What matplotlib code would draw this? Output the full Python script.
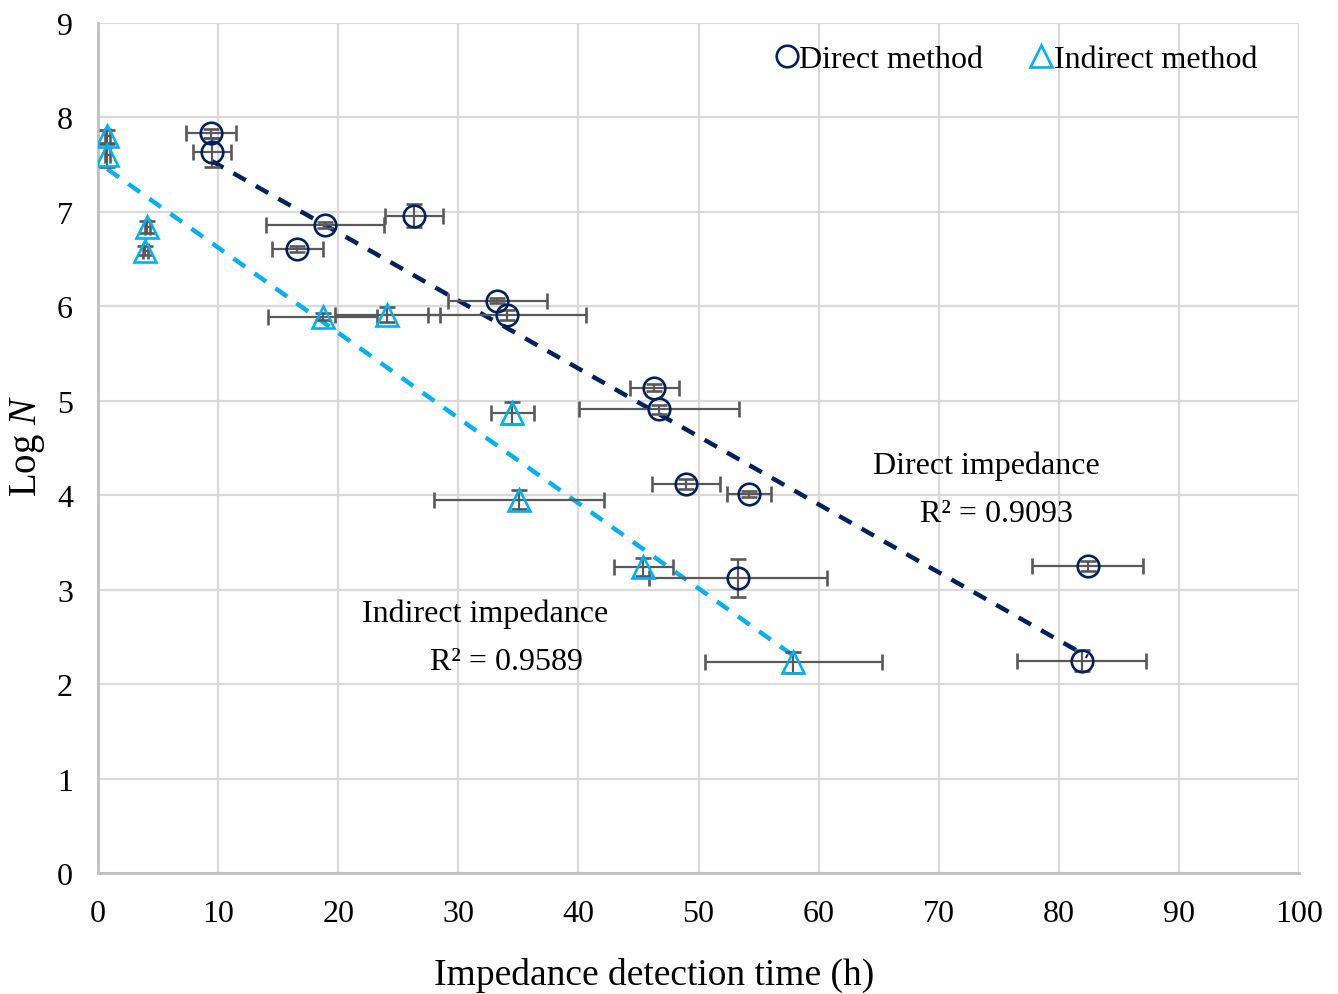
import numpy as np
import matplotlib.pyplot as plt
from matplotlib.lines import Line2D

plt.rcParams['font.family'] = ['Liberation Serif', 'DejaVu Serif']
plt.rcParams['mathtext.fontset'] = 'custom'
plt.rcParams['mathtext.it'] = 'Liberation Serif:italic'
plt.rcParams['mathtext.rm'] = 'Liberation Serif'

# direct method (circles)
direct_t = [9.41, 9.5, 18.9, 16.6, 26.3, 33.25, 34.05, 46.3, 46.7, 48.98, 54.2, 53.3, 82.4, 81.9]
direct_logn = [7.83, 7.63, 6.86, 6.61, 6.96, 6.06, 5.91, 5.14, 4.91, 4.12, 4.01, 3.12, 3.25, 2.25]
direct_terr = [2.1, 1.55, 4.9, 2.15, 2.4, 4.1, 6.6, 2.04, 6.66, 2.83, 1.8, 7.4, 4.64, 5.39]
direct_nerr = [0.05, 0.15, 0.03, 0.03, 0.12, 0.03, 0.05, 0.04, 0.05, 0.05, 0.03, 0.2, 0.05, 0.11]

# indirect method (triangles)
indirect_t = [0.78, 0.78, 4.1, 3.95, 18.7, 24.1, 34.5, 35.05, 45.4, 57.9]
indirect_logn = [7.8, 7.6, 6.84, 6.59, 5.89, 5.91, 4.87, 3.95, 3.24, 2.23]
indirect_terr = [0.2, 0.2, 0.2, 0.2, 4.55, 4.35, 1.8, 7.1, 2.44, 7.35]
indirect_nerr = [0.07, 0.12, 0.06, 0.05, 0.04, 0.08, 0.115, 0.1, 0.1, 0.11]

navy = '#002060'
cyan = '#00b0f0'
errc = '#595959'

fig = plt.figure(figsize=(13.38, 9.95), dpi=100)
ax = fig.add_axes([0.0732, 0.1216, 0.8977, 0.8543])

# trendlines
for t, n, c in [(direct_t, direct_logn, navy), (indirect_t, indirect_logn, cyan)]:
    p = np.polyfit(t, n, 1)
    xs = np.array([min(t), max(t)])
    ax.plot(xs, np.polyval(p, xs), color=c, lw=3.2, ls=(0, (3.2, 2.6)), zorder=3)

ax.errorbar(direct_t, direct_logn, xerr=direct_terr, yerr=direct_nerr, fmt='o',
            ms=15.5, mfc='none', mec=navy, mew=1.9, ecolor=errc, elinewidth=1.6,
            capsize=5.5, capthick=1.6, zorder=4)
ax.errorbar(indirect_t, indirect_logn, xerr=indirect_terr, yerr=indirect_nerr, fmt='^',
            ms=16.5, mfc='none', mec=cyan, mew=1.9, ecolor=errc, elinewidth=1.6,
            capsize=5.5, capthick=1.6, zorder=4)

ax.set_xlim(0, 100)
ax.set_ylim(0, 9)
ax.set_xticks(range(0, 101, 10))
ax.set_yticks(range(0, 10))
ax.grid(True, color='#d9d9d9', lw=1.6, zorder=0)
ax.set_axisbelow(True)
for s in ['top', 'right']:
    ax.spines[s].set_visible(False)
for s in ['left', 'bottom']:
    ax.spines[s].set_color('#bfbfbf')
    ax.spines[s].set_linewidth(2)
ax.tick_params(length=0, labelsize=23)
ax.tick_params(axis='x', pad=19)
ax.tick_params(axis='y', pad=18)

ax.set_xlabel('Impedance detection time (h)', fontsize=27, va='center')
ax.xaxis.set_label_coords(0.463, -0.119)
ax.set_ylabel('Log $\\mathit{N}$', fontsize=28, va='center')
ax.yaxis.set_label_coords(-0.059, 0.503)

ax.text(74, 4.32, 'Direct impedance', fontsize=23, ha='center', va='center')
ax.text(74.8, 3.81, 'R² = 0.9093', fontsize=23, ha='center', va='center')
ax.text(32.2, 2.75, 'Indirect impedance', fontsize=23, ha='center', va='center')
ax.text(34, 2.24, 'R² = 0.9589', fontsize=23, ha='center', va='center')

handles = [Line2D([], [], ls='none', marker='o', ms=15.5, mfc='none', mec=navy, mew=1.9),
           Line2D([], [], ls='none', marker='^', ms=16.5, mfc='none', mec=cyan, mew=1.9)]
ax.legend(handles, ['Direct method', 'Indirect method'], loc='upper right',
          bbox_to_anchor=(0.989, 1.008), ncol=2, frameon=False, fontsize=23,
          handlelength=0.6, handletextpad=0.1, columnspacing=1.5)

fig.savefig('out.png', dpi=100)
